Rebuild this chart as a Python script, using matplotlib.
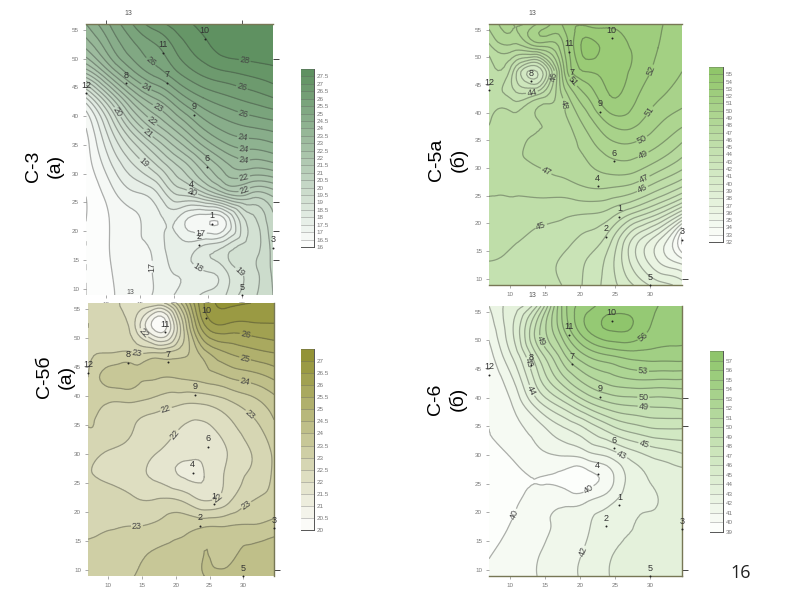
import numpy as np
import matplotlib
matplotlib.use("Agg")
import matplotlib.pyplot as plt
import matplotlib.tri as mtri
from matplotlib.colors import LinearSegmentedColormap

W, H = 800, 600
plt.rcParams['font.family'] = ['Liberation Sans', 'DejaVu Sans']

well_names = ['1','2','3','4','5','6','7','8','9','10','11','12']
well_x = [25.6,23.66,34.5,22.5,30.0,24.8,18.9,13.0,22.9,24.5,18.4,7.07]
well_y = [21.25,17.6,17.1,26.7,8.9,31.2,45.8,45.7,40.2,53.4,51.0,44.0]
grid_x = [7.07,10.5,13.9,17.4,20.8,24.2,27.6,31.1,34.5]
grid_y = [56.0,51.7,47.4,43.2,38.9,34.6,30.3,26.0,21.7,17.5,13.2,8.9]

c3 = [[24,25,26,26.8,27.3,27.6,27.8,27.9,28],
      [23,24.3,25.3,25.9,26.7,27.3,27.7,27.8,27.8],
      [21,22.8,24.3,25.2,26,26.6,26.9,27.1,27.3],
      [18,20.3,22.4,23.6,24.7,25.5,25.9,26.2,26.5],
      [16.6,18.6,20.7,22.1,23.2,24.3,24.9,25.2,25.4],
      [16.3,17.8,19.2,20.5,21.7,22.9,23.8,24.1,24.3],
      [16.2,17.2,18.2,19.1,20.3,21.5,22.6,22.8,22.9],
      [16,16.7,17.3,17.8,18.9,19.4,20.5,20.7,21],
      [16,16.5,16.9,17.3,17.3,16.6,17,19.2,20.4],
      [16,16.5,16.9,17.2,17.7,18,18.5,19.2,20.2],
      [16,16.45,16.8,17.1,17.6,18,18.5,19.25,20.1],
      [16,16.4,16.75,17.1,17.6,18.05,18.5,19.3,20]]
c5a = [[48.3,49,50,52,52.8,52.9,52.5,52.1,51.5],
       [46.6,47.5,48.5,50.5,54.3,53.5,52.9,52,51.3],
       [45.4,44,41,49,53,53.3,52.8,51.7,51],
       [45.4,44.5,45,48,51,53,52.3,51.2,50.5],
       [45.9,46.3,47,47.6,49.5,51.5,51.5,50.3,49.5],
       [46.3,46.7,47.2,47.4,48.5,49.8,50,49.2,48],
       [46.3,46.7,47,47.3,47.8,48.5,48.5,47.5,46.3],
       [46.1,46.1,46.3,46.4,46.8,46.8,46.3,45,43.5],
       [45.7,45.8,45.4,45.2,45,44.5,42.8,41,38],
       [45.4,45.2,44.8,44.5,43.8,42.5,39,36.5,32],
       [45,44.8,44.4,43.9,43,41.5,38.5,36,34.5],
       [44.7,44.6,44.2,44,42.8,41.5,40,38.5,37.5]]
c5b = [[22.8,22.6,22.3,22.4,24,26.5,27.1,27,26.7],
       [23,22.7,22.1,20.2,22.6,25.8,26.3,26.3,26.4],
       [22.9,23,23,23,23.3,24.3,25,25.3,25.5],
       [23,23.7,23.7,23.55,23.55,23.7,24,24.25,24.6],
       [23.1,23,23,22.8,22.6,22.6,22.9,23.3,23.8],
       [23,22.8,22.5,22.2,22,21.9,22.3,22.8,23.4],
       [22.7,22.45,22.3,22,21.7,21.6,22,22.5,23.1],
       [22.55,22.4,22.2,21.9,21.5,21.5,22.1,22.6,23.1],
       [22.8,22.75,22.6,22.6,22.55,22.05,22.4,23,23.2],
       [22.9,22.97,23,23.1,23.3,23.45,23.5,23.55,23.7],
       [23.1,23.2,23.35,23.55,23.7,24,23.9,24.1,24.3],
       [23.2,23.35,23.5,23.6,23.8,24,24.1,24.2,24.3]]
c6 = [[42,43.5,46,53,55.5,56.5,56.5,56,55.5],
      [41.3,44,48.5,52.5,55.8,57,56.8,55.6,55.3],
      [40.6,43.2,47,50.5,53,54,54.5,54.5,54.5],
      [40.2,42,45.5,48.5,50.5,51.5,52,52,52],
      [40.2,41.1,43.5,45.5,47.5,48.8,49.2,49.3,49.5],
      [40,40.6,41.5,42.8,44,45.5,46.5,47,47],
      [39.9,40.2,40.8,41.2,41.7,42.5,43.7,44.5,45],
      [39.5,39.6,40,39.8,39.5,40.6,42.5,43.2,43.5],
      [39.5,39.8,40.5,40.8,41,41.8,42.8,43,43.3],
      [39.6,40.1,40.7,41.2,41.8,42.6,43,43.1,43.2],
      [39.9,40.4,40.9,41.5,42.1,42.9,43.1,43.2,43.2],
      [40.2,40.6,41,41.7,42.2,43,43.1,43.2,43.2]]

levels_c3 = np.arange(16, 28.01, 0.5)
levels_c5a = np.arange(32, 56.01, 1)
levels_c5b = np.arange(20, 27.51, 0.5)
levels_c6 = np.arange(39, 58.01, 1)

x_ticks = [10, 15, 20, 25, 30]
y_ticks = [10, 15, 20, 25, 30, 35, 40, 45, 50, 55]

labels_c3 = [(30.4,50),(30.2,46),(30.4,41.3),(30.2,37),(30.2,33.7),(30.2,31.5),(30.2,29.6),(30.2,27.4),
             (22.6,26.5),(11.5,40.5),(15.8,32.2),(16.1,37),(16.7,39),(17.5,41.2),(16,45.2),(16.4,49.2),
             (30.2,13.8),(23.6,13.8),(17.6,13.8),(23.8,21)]
labels_c5a = [(29.6,47.9),(29.1,40.9),(29.2,34.2),(29.1,32.1),(29,28.4),(29,25.9),
              (14.5,19.5),(15,29),(16.2,46.5),(13.2,43.4),(18.9,45.5),(17.5,41.5)]
labels_c5b = [(30.2,50),(30.2,46.3),(30.2,42.2),(30.6,36.3),(18.5,38),(14.3,47),(15.2,50.7),
              (30.5,21),(14.3,17.8),(20,33.2),(26.5,22)]
labels_c6 = [(29.3,50.1),(29,45.5),(29,40.6),(29,37.6),(29.3,32.5),(25.7,29.4),(21,24.5),(11,19.5),
             (19.5,13.6),(13,41.2),(13,46.2),(14.7,50)]
label_fmt = '%.0f'

right_c3, right_c5a, right_c5b, right_c6 = [50, 25, 20, 15], [10], [10], [40, 35, 10]
top_c3 = [10, 30]

panels = [
    (c3, levels_c3, ['#ffffff', '#5c8f5e'], (86,273,24,295), (301,314,69,247), labels_c3, 'C-3\n(a)', (44,166), right_c3, top_c3, ('top',)),
    (c5a, levels_c5a, ['#ffffff', '#8ec567'], (489,682,24,285), (709,723,67,242), labels_c5a, 'C-5а\n(б)', (448,160), right_c5a, [], ('top','bottom')),
    (c5b, levels_c5b, ['#ffffff', '#8f8f2f'], (88,274,303,576), (301,314,349,530), labels_c5b, 'C-5б\n(а)', (55,377), right_c5b, [], ('right',)),
    (c6, levels_c6, ['#ffffff', '#8cc468'], (489,682,306,576), (710,723,351,532), labels_c6, 'C-6\n(б)', (447,399), right_c6, [], ('bottom','right')),
]

fig = plt.figure(figsize=(W/100, H/100), dpi=100, facecolor='white')

def rect(x0, x1, y0, y1):
    return [x0/W, 1-y1/H, (x1-x0)/W, (y1-y0)/H]

gx, gy = np.meshgrid(grid_x, grid_y)
tri = mtri.Triangulation(gx.ravel(), gy.ravel())
refiner = mtri.UniformTriRefiner(tri)

for values, levels, colors, box, cbox, lab_pos, title, tpos, rticks, tticks, edges in panels:
    ax = fig.add_axes(rect(*box))
    cmap = LinearSegmentedColormap.from_list('c', colors)
    z = np.array(values, float).ravel()
    t2, z2 = refiner.refine_field(z, subdiv=3)
    ax.tricontourf(t2, z2, levels=levels, cmap=cmap, extend='both')
    cs = ax.tricontour(t2, z2, levels=levels, colors='#333333', linewidths=0.9, alpha=0.38)
    for t in ax.clabel(cs, fontsize=6.5, fmt=label_fmt, manual=lab_pos, inline=True, inline_spacing=1, colors='#444444'):
        t.set_alpha(1)
    ax.scatter(well_x, well_y, s=2, c='#222222', zorder=5, clip_on=False, linewidths=0)
    for name, wx, wy in zip(well_names, well_x, well_y):
        ax.annotate(name, (wx, wy), xytext=(0, 2.5), textcoords='offset points', ha='center',
                    va='bottom', fontsize=6.5, color='#333333', annotation_clip=False)
    ax.text(13.3, 57.2, '13', fontsize=5, color='#555555', ha='center', va='bottom')
    ax.set_xlim(grid_x[0], grid_x[-1])
    ax.set_ylim(grid_y[-1], grid_y[0])
    ax.set_xticks(x_ticks)
    ax.set_yticks(y_ticks)
    ax.tick_params(axis='both', length=2, width=0.5, labelsize=4.5, labelcolor='#777777',
                   color='#888888', pad=3)
    for k, s in ax.spines.items():
        s.set_visible(k in edges)
        s.set_color('#777755')
        s.set_linewidth(1.0)
    if rticks:
        sec = ax.secondary_yaxis('right')
        sec.set_yticks(rticks)
        sec.set_yticklabels([])
        sec.tick_params(length=4, width=0.7, color='#444444')
        sec.spines['right'].set_visible(False)
    if tticks:
        sec = ax.secondary_xaxis('top')
        sec.set_xticks(tticks)
        sec.set_xticklabels([])
        sec.tick_params(length=3, width=0.7, color='#555555')
        sec.spines['top'].set_visible(False)

    cax = fig.add_axes(rect(*cbox))
    mids = 0.5*(levels[:-1] + levels[1:])
    norm = plt.Normalize(levels[0], levels[-1])
    cax.pcolormesh([0, 1], levels, mids[:, None], cmap=cmap, norm=norm, shading='flat')
    for lv in levels:
        cax.axhline(lv, color='#555555', lw=0.5, alpha=0.45)
    cax.set_xticks([])
    cax.yaxis.tick_right()
    cax.set_yticks(levels[:-1])
    cax.set_yticklabels(['%g' % v for v in levels[:-1]])
    cax.tick_params(axis='y', length=0, labelsize=4.5, labelcolor='#777777', pad=2)
    for k, s in cax.spines.items():
        s.set_visible(k in ('right', 'bottom'))
        s.set_color('#555555')
        s.set_linewidth(0.7)

    fig.text(tpos[0]/W, 1-tpos[1]/H, title, rotation=90, ha='center', va='center',
             fontsize=14, color='black', linespacing=1.35, multialignment='center')

fig.text(741/W, 1-573/H, '16', fontsize=13, family='Open Sans', color='#222222', ha='center', va='center')
fig.savefig('out.png', dpi=100)
